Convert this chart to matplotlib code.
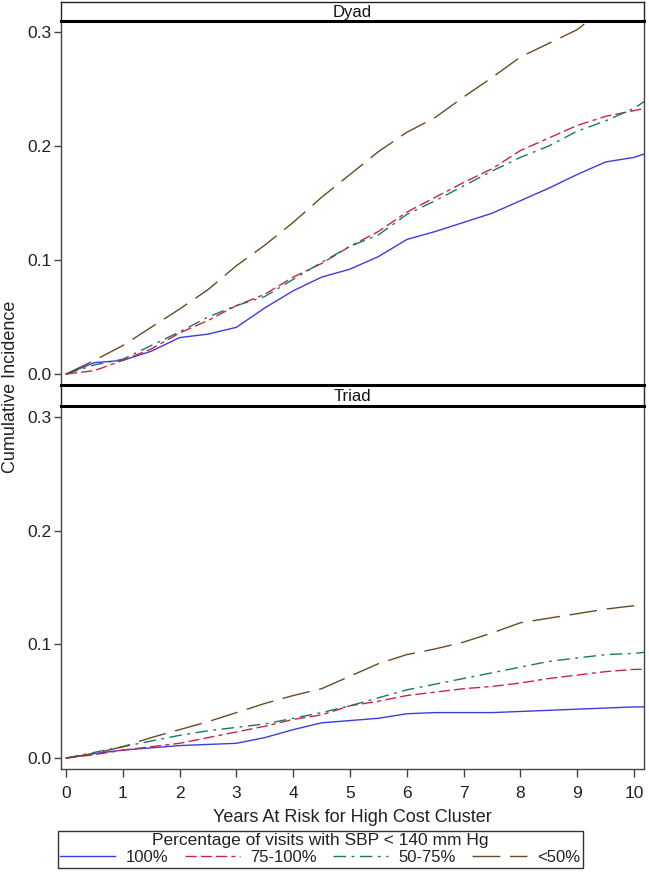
import matplotlib
matplotlib.use("Agg")
import matplotlib.pyplot as plt
from matplotlib.lines import Line2D

plt.rcParams['font.family'] = ['Liberation Sans', 'DejaVu Sans']

# ---------------- data ----------------
years = [0, 0.5, 1.0, 1.5, 2.0, 2.5, 3.0, 3.5, 4.0, 4.5, 5.0, 5.5, 6.0,
         6.5, 7.0, 7.5, 8.0, 8.5, 9.0, 9.5, 10.0, 10.18]

dyad_100 = [0, 0.010, 0.012, 0.020, 0.032, 0.035, 0.041, 0.058, 0.073, 0.085,
            0.092, 0.103, 0.118, 0.125, 0.133, 0.141, 0.152, 0.163, 0.175,
            0.186, 0.190, 0.193]
dyad_75_100 = [0, 0.003, 0.012, 0.022, 0.036, 0.047, 0.060, 0.070, 0.085,
               0.097, 0.112, 0.125, 0.142, 0.155, 0.168, 0.180, 0.196, 0.207,
               0.218, 0.226, 0.231, 0.233]
dyad_50_75 = [0, 0.008, 0.013, 0.025, 0.037, 0.050, 0.060, 0.068, 0.083,
              0.098, 0.112, 0.122, 0.140, 0.152, 0.165, 0.178, 0.190, 0.200,
              0.213, 0.222, 0.233, 0.239]
dyad_lt50_years = [0, 0.5, 1.0, 1.5, 2.0, 2.5, 3.0, 3.5, 4.0, 4.5, 5.0, 5.5,
                   6.0, 6.5, 7.0, 7.5, 8.0, 8.5, 9.0, 9.2]
dyad_lt50 = [0, 0.012, 0.025, 0.041, 0.057, 0.074, 0.095, 0.113, 0.133, 0.155,
             0.175, 0.195, 0.212, 0.225, 0.243, 0.260, 0.278, 0.290, 0.302,
             0.310]

triad_100 = [0, 0.004, 0.007, 0.009, 0.011, 0.012, 0.013, 0.018, 0.025, 0.031,
             0.033, 0.035, 0.039, 0.040, 0.040, 0.040, 0.041, 0.042, 0.043,
             0.044, 0.045, 0.045]
triad_75_100 = [0, 0.003, 0.007, 0.010, 0.013, 0.018, 0.023, 0.028, 0.034,
                0.038, 0.046, 0.050, 0.055, 0.058, 0.061, 0.063, 0.066, 0.070,
                0.073, 0.076, 0.078, 0.078]
triad_50_75 = [0, 0.005, 0.010, 0.015, 0.020, 0.024, 0.027, 0.030, 0.035,
               0.040, 0.046, 0.053, 0.060, 0.065, 0.070, 0.075, 0.080, 0.085,
               0.088, 0.091, 0.092, 0.093]
triad_lt50 = [0, 0.004, 0.010, 0.018, 0.025, 0.032, 0.040, 0.048, 0.055, 0.061,
              0.072, 0.083, 0.091, 0.096, 0.102, 0.110, 0.119, 0.123, 0.127,
              0.131, 0.134, 0.135]

groups = ['100%', '75-100%', '50-75%', '<50%']
panels = ['Dyad', 'Triad']
x_ticks = [0, 1, 2, 3, 4, 5, 6, 7, 8, 9, 10]
y_ticks = [0.0, 0.1, 0.2, 0.3]

colors = ['#3c3ce0', '#c8283f', '#187868', '#6a4a20']
styles = ['-', (0, (8, 3, 8, 3, 8, 3, 3, 3)), (0, (9, 4, 2, 4)), (0, (20, 7))]

W, H = 649, 874
fig = plt.figure(figsize=(W / 100, H / 100), dpi=100)

def fx(px):
    return px / W

def fy(py):
    return 1 - py / H

left_px, right_px = 61, 644
xlim = (-0.088, 10.176)
ylim = (-0.0096, 0.3096)

panel_geo = [  # header top, header bottom, plot bottom
    (2, 21, 385),
    (385, 406, 769),
]
panel_data = [
    [(years, dyad_100), (years, dyad_75_100), (years, dyad_50_75),
     (dyad_lt50_years, dyad_lt50)],
    [(years, triad_100), (years, triad_75_100), (years, triad_50_75),
     (years, triad_lt50)],
]

spine_col = '#444444'
txt_col = '#222222'
for i, (name, (ht, hb, pb)) in enumerate(zip(panels, panel_geo)):
    ax = fig.add_axes([fx(left_px), fy(pb), fx(right_px - left_px),
                       (pb - hb) / H])
    for (xs, ys), c, ls in zip(panel_data[i], colors, styles):
        ax.plot(xs, ys, color=c, linestyle=ls, linewidth=1.0)
    ax.set_xlim(*xlim)
    ax.set_ylim(*ylim)
    ax.set_yticks(y_ticks)
    ax.set_yticklabels([f'{v:.1f}' for v in y_ticks])
    ax.set_xticks(x_ticks)
    for s in ax.spines.values():
        s.set_color(spine_col)
        s.set_linewidth(1.0)
    ax.spines['top'].set_visible(False)
    ax.tick_params(axis='y', direction='out', length=5, width=1,
                   color=spine_col, labelsize=12.5, labelcolor=txt_col, pad=2)
    if i == 1:
        ax.tick_params(axis='x', direction='out', length=6, width=1,
                       color=spine_col, labelsize=12.5, labelcolor=txt_col,
                       pad=6)
    else:
        ax.tick_params(axis='x', length=0, labelbottom=False)

    # header strip
    hax = fig.add_axes([fx(left_px), fy(hb), fx(right_px - left_px),
                        (hb - ht) / H])
    hax.set_xticks([])
    hax.set_yticks([])
    for s in hax.spines.values():
        s.set_color('#222222')
        s.set_linewidth(1.0)
    hax.spines['bottom'].set_linewidth(2.2)
    hax.spines['bottom'].set_color('black')
    if i == 1:
        hax.spines['top'].set_linewidth(2.2)
        hax.spines['top'].set_color('black')
    hax.text(0.5, 0.45, name, transform=hax.transAxes, ha='center',
             va='center', fontsize=12, color='#111111')

fig.text(fx(11), fy(387), 'Cumulative Incidence', rotation=90, ha='center',
         va='center', fontsize=13, color=txt_col)
fig.text(fx(352), fy(818), 'Years At Risk for High Cost Cluster',
         ha='center', va='center', fontsize=13, color=txt_col)

handles = [Line2D([], [], color=c, linestyle=ls, linewidth=1.0)
           for c, ls in zip(colors, styles)]
leg = fig.legend(handles, groups, ncol=4, loc='upper left',
                 bbox_to_anchor=(fx(58), fy(831)),
                 title='Percentage of visits with SBP < 140 mm Hg',
                 title_fontsize=12.5, fontsize=12, frameon=True,
                 fancybox=False, edgecolor='black', handlelength=3.3,
                 handletextpad=0.6, columnspacing=1.0, borderpad=0.15,
                 borderaxespad=0, labelspacing=0.1)
leg.get_frame().set_linewidth(1.0)
leg.get_title().set_color(txt_col)
for t in leg.get_texts():
    t.set_color(txt_col)

fig.savefig('out.png', dpi=100)
